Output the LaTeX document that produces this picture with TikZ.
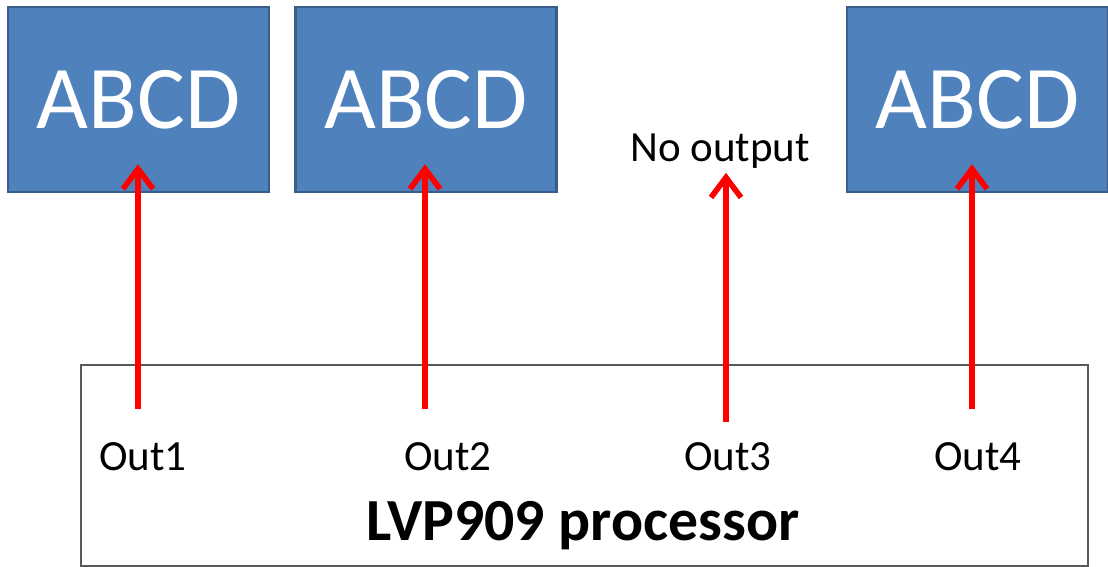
\documentclass[tikz,border=0pt]{standalone}
\usepackage{fontspec}
\setmainfont{Carlito}
\usetikzlibrary{arrows.meta, calc}
\definecolor{boxfill}{HTML}{4F81BD}
\definecolor{boxline}{HTML}{385D8A}
\definecolor{frame}{HTML}{595959}

\begin{document}
\begin{tikzpicture}[x=0.02cm, y=-0.02cm,
          bx/.style={draw=boxline, line width=1.4pt, fill=boxfill, text=white,
                     minimum width=5.22cm, minimum height=3.7cm, inner sep=0pt,
                     font=\fontsize{51}{51}\selectfont},
          lbl/.style={font=\fontsize{24.5}{24.5}\selectfont, inner sep=2pt},
          ar/.style={-{Straight Barb[length=4mm, width=6mm]}, red, line width=3.2pt}
        ]
        \useasboundingbox (0,0) rectangle (1108,567);
        % output blocks
        \node[bx] (b1) at (138.5,99.5) {ABCD};
        \node[bx] (b2) at (426,99.5) {ABCD};
        \node[bx] (b4) at (977.5,99.5) {ABCD};
        \node[lbl, anchor=base] (no) at (720,162) {No output};

        % processor
        \node[draw=frame, line width=0.8pt, minimum width=20.14cm, minimum height=4.02cm,
              inner sep=0pt] (proc) at (584.5,465.5) {};
        \node[font=\fontsize{34}{34}\selectfont\bfseries, anchor=base] (pname) at (583,540) {LVP909 processor};
        \node[lbl] (o1) at (143,457) {Out1};
        \node[lbl] (o2) at (448,457) {Out2};
        \node[lbl] (o3) at (728,457) {Out3};
        \node[lbl] (o4) at (978,457) {Out4};

        \coordinate (s1) at (138,409);
        \coordinate (s2) at (425,409);
        \coordinate (s3) at (726,422);
        \coordinate (s4) at (972,409);

        \draw[ar] (s1) -- ($(s1 |- b1.south)+(0,-29)$);
        \draw[ar] (s2) -- ($(s2 |- b2.south)+(0,-29)$);
        \draw[ar] (s3) -- (s3 |- no.south);
        \draw[ar] (s4) -- ($(s4 |- b4.south)+(0,-29)$);
      \end{tikzpicture}
\end{document}
